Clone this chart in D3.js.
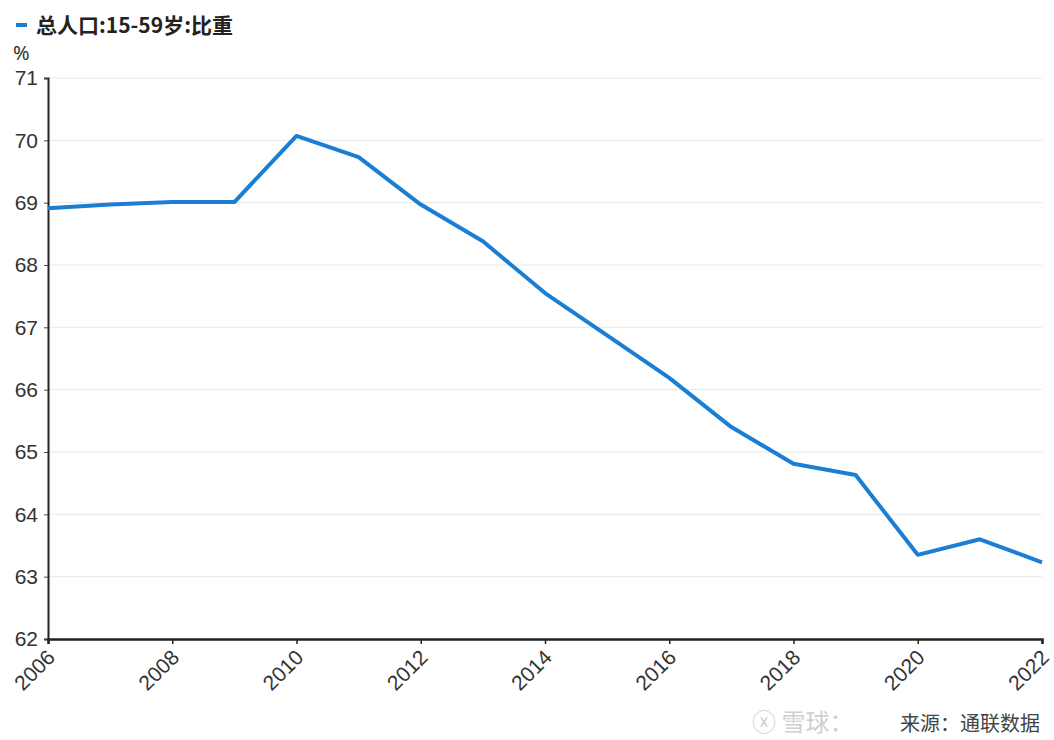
<!DOCTYPE html>
<html>
<head>
<meta charset="utf-8">
<script src="https://cdn.jsdelivr.net/npm/d3@7"></script>
<style>
  body { margin: 0; background: #fff; }
  svg { display: block; font-family: "Noto Sans", "Noto Sans CJK SC", sans-serif; }
</style>
</head>
<body>
<svg id="chart" width="1054" height="740"></svg>
<script>
// Share of population aged 15-59 (%), yearly
const years = [2006, 2007, 2008, 2009, 2010, 2011, 2012, 2013, 2014, 2015, 2016, 2017, 2018, 2019, 2020, 2021, 2022];
const share = [68.91, 68.97, 69.01, 69.01, 70.07, 69.73, 68.97, 68.38, 67.55, 66.87, 66.19, 65.40, 64.81, 64.63, 63.35, 63.60, 63.23];
const yTicks = [62, 63, 64, 65, 66, 67, 68, 69, 70, 71];
const xTicks = [2006, 2008, 2010, 2012, 2014, 2016, 2018, 2020, 2022];
const seriesName = "总人口:15-59岁:比重";
const unitLabel = "%";
const sourceText = "来源：通联数据";

const svg = d3.select("#chart");
const m = { left: 48, right: 1042, top: 78, bottom: 639 };

const x = d3.scaleLinear().domain([2006, 2022]).range([m.left, m.right]);
const y = d3.scaleLinear().domain([62, 71]).range([m.bottom, m.top]);

// horizontal gridlines
svg.append("g")
  .selectAll("line")
  .data(yTicks.filter(d => d > 62))
  .join("line")
  .attr("x1", m.left).attr("x2", m.right)
  .attr("y1", d => y(d)).attr("y2", d => y(d))
  .attr("stroke", "#e8e8e8").attr("stroke-width", 1);

// y axis
const yAxis = svg.append("g")
  .attr("transform", `translate(${m.left},0)`)
  .call(d3.axisLeft(y).tickValues(yTicks).tickSize(4).tickPadding(6).tickFormat(d3.format("d")));
yAxis.select(".domain").attr("stroke", "#222").attr("stroke-width", 2);
yAxis.selectAll(".tick line").attr("stroke", "#444");
yAxis.selectAll("text").attr("font-size", 21).attr("fill", "#333");

// x axis
const xAxis = svg.append("g")
  .attr("transform", `translate(0,${m.bottom})`)
  .call(d3.axisBottom(x).tickValues(xTicks).tickSize(5).tickFormat(d3.format("d")));
xAxis.select(".domain").attr("stroke", "#222").attr("stroke-width", 2.5);
xAxis.selectAll(".tick line").attr("stroke", "#222").attr("stroke-width", 1.5);
xAxis.selectAll("text")
  .attr("font-size", 21).attr("fill", "#333")
  .attr("text-anchor", "end")
  .attr("dy", null)
  .attr("transform", "translate(2,14) rotate(-45)");

// data line
const line = d3.line().x((d, i) => x(years[i])).y(d => y(d));
svg.append("path")
  .datum(share)
  .attr("d", line)
  .attr("fill", "none")
  .attr("stroke", "#1a7fd4")
  .attr("stroke-width", 4)
  .attr("stroke-linejoin", "round");

// legend
svg.append("line")
  .attr("x1", 16).attr("x2", 27).attr("y1", 25).attr("y2", 25)
  .attr("stroke", "#1a7fd4").attr("stroke-width", 4);
svg.append("text")
  .attr("x", 36).attr("y", 33)
  .attr("font-size", 21).attr("font-weight", "bold").attr("fill", "#222")
  .attr("font-family", "'Noto Sans CJK SC', sans-serif")
  .text(seriesName);

// unit
svg.append("text")
  .attr("x", 13).attr("y", 60)
  .attr("font-size", 20).attr("fill", "#333")
  .text(unitLabel);

// footer
svg.append("text")
  .attr("x", 752).attr("y", 731)
  .attr("font-size", 24).attr("fill", "#d0d0d0")
  .attr("font-family", "'Noto Sans CJK SC', sans-serif")
  .text("ⓧ 雪球：");
svg.append("text")
  .attr("x", 1040).attr("y", 731)
  .attr("text-anchor", "end")
  .attr("font-size", 20).attr("fill", "#444")
  .attr("font-family", "'Noto Sans CJK SC', sans-serif")
  .text(sourceText);
</script>
</body>
</html>
